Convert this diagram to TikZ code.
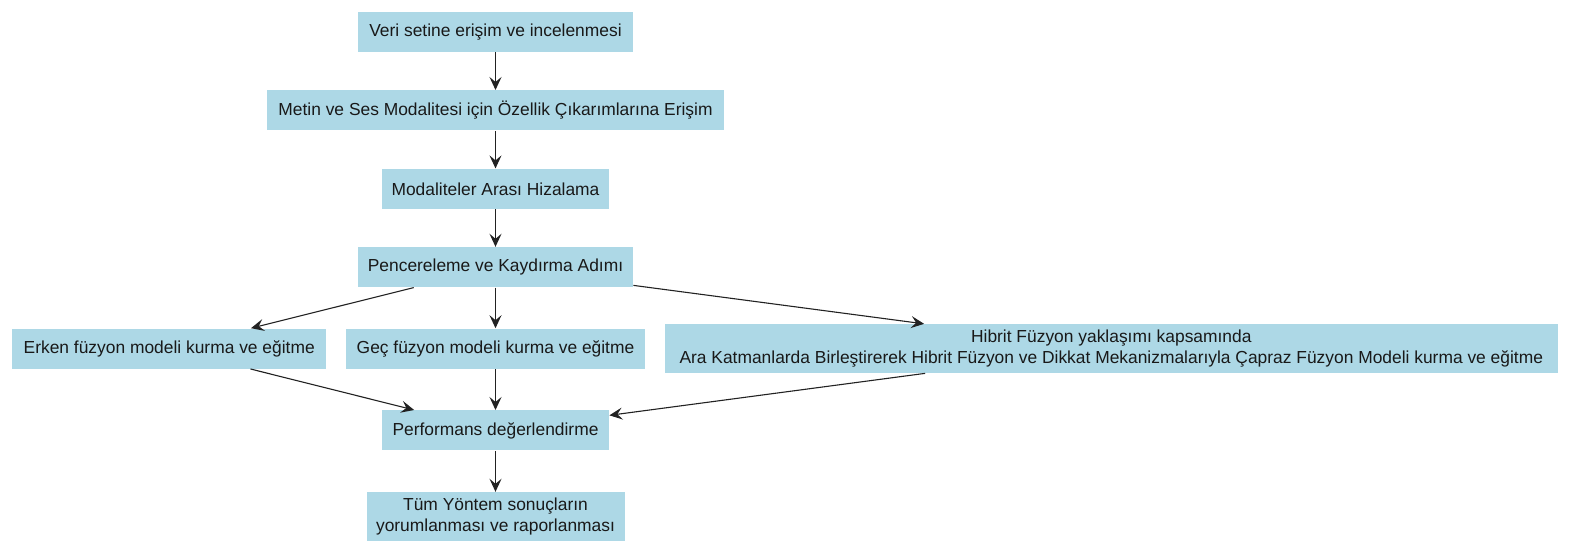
\documentclass[tikz,border=0pt]{standalone}
\usepackage{fontspec}
\setmainfont{Liberation Sans}
\usetikzlibrary{positioning,arrows.meta}
\definecolor{kutuMavi}{HTML}{ADD8E6}
\definecolor{okGri}{HTML}{222222}

\begin{document}
\begin{tikzpicture}[node distance=18.8pt,
  every node/.style={font=\fontsize{8.7}{10.6}\selectfont, text=black!90},
  adim/.style={fill=kutuMavi, inner xsep=4pt, inner ysep=2.8pt, minimum height=20pt, align=center},
  ok/.style={-{Stealth[length=6.5pt,width=6pt,inset=2.5pt]}, line width=0.55pt, color=okGri}]
  \useasboundingbox (0,0) rectangle (785pt,-276pt);

  \node[adim, minimum width=137.5pt] (veri) at (247.75pt,-16pt) {Veri setine erişim ve incelenmesi};
  \node[adim, below=of veri, minimum width=228.5pt] (ozellik) {Metin ve Ses Modalitesi için Özellik Çıkarımlarına Erişim};
  \node[adim, below=of ozellik, minimum width=113.5pt] (hizalama) {Modaliteler Arası Hizalama};
  \node[adim, below=of hizalama, minimum width=137.5pt] (pencere) {Pencereleme ve Kaydırma Adımı};

  \node[adim, below=20.3pt of pencere, minimum width=149.5pt] (gec) {Geç füzyon modeli kurma ve eğitme};
  \node[adim, left=9.5pt of gec, minimum width=157pt] (erken) {Erken füzyon modeli kurma ve eğitme};
  \node[adim, right=9.5pt of gec, minimum width=446.5pt] (hibrit) {Hibrit Füzyon yaklaşımı kapsamında\\Ara Katmanlarda Birleştirerek Hibrit Füzyon ve Dikkat Mekanizmalarıyla Çapraz Füzyon Modeli kurma ve eğitme};

  \node[adim, below=20.5pt of gec, minimum width=113.5pt] (perf) {Performans değerlendirme};
  \node[adim, below=20.5pt of perf, minimum width=129pt] (sonuc) {Tüm Yöntem sonuçların\\yorumlanması ve raporlanması};

  \draw[ok] (veri) -- (ozellik);
  \draw[ok] (ozellik) -- (hizalama);
  \draw[ok] (hizalama) -- (pencere);
  \draw[ok] (pencere) -- (erken);
  \draw[ok] (pencere) -- (gec);
  \draw[ok] (pencere) -- (hibrit);
  \draw[ok] (erken) -- (perf);
  \draw[ok] (gec) -- (perf);
  \draw[ok] (hibrit) -- (perf);
  \draw[ok] (perf) -- (sonuc);
\end{tikzpicture}
\end{document}
